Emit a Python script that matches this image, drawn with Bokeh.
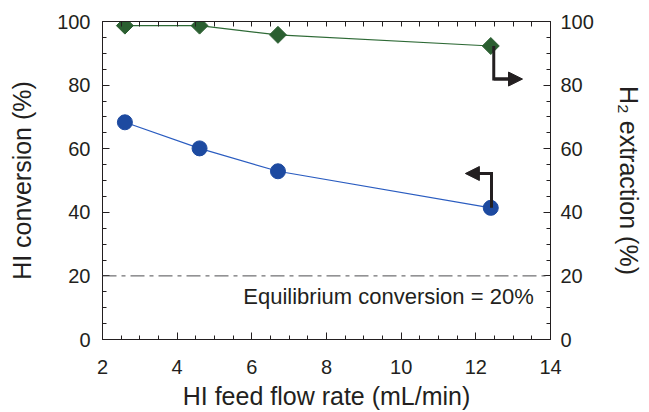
import numpy as np
from bokeh.plotting import figure
from bokeh.models import (Range1d, LinearAxis, SingleIntervalTicker, FixedTicker, Span, Label,
                          Arrow, NormalHead, ColumnDataSource)
from bokeh.embed import file_html
from bokeh.resources import INLINE

# ---- data ----
flow_rate = [2.6, 4.6, 6.7, 12.4]               # HI feed flow rate (mL/min)
hi_conversion = [68.3, 60.1, 52.9, 41.4]        # HI conversion (%)
h2_extraction = [98.7, 98.7, 95.8, 92.3]        # H2 extraction (%)
equilibrium = 20                                # equilibrium conversion (%)
eq_label = "Equilibrium conversion = 20%"
x_title = "HI feed flow rate (mL/min)"
y_title = "HI conversion (%)"
y2_title = "H₂ extraction (%)"

FONT = "Liberation Sans"
INK = "#231f20"

p = figure(width=649, height=412, output_backend="svg", toolbar_location=None,
           x_range=Range1d(2, 14), y_range=Range1d(0, 100),
           min_border_left=102, min_border_right=99, min_border_top=21, min_border_bottom=70)
p.extra_y_ranges = {"h2": Range1d(0, 100)}
p.xgrid.visible = False
p.ygrid.visible = False
p.outline_line_color = None
p.background_fill_color = "white"
p.border_fill_color = "white"

def style(ax):
    ax.axis_line_color = INK
    ax.axis_line_width = 1
    ax.major_tick_line_color = INK
    ax.minor_tick_line_color = INK
    ax.major_tick_in = 7
    ax.major_tick_out = 0
    ax.minor_tick_in = 4
    ax.minor_tick_out = 0
    ax.major_label_text_font = FONT
    ax.major_label_text_color = INK
    ax.major_label_text_font_size = "20px"
    ax.axis_label_text_font = FONT
    ax.axis_label_text_color = INK
    ax.axis_label_text_font_style = "normal"
    ax.axis_label_text_font_size = "25px"

# bottom / left axes
p.xaxis.ticker = SingleIntervalTicker(interval=2, num_minor_ticks=4)
p.yaxis.ticker = SingleIntervalTicker(interval=20, num_minor_ticks=4)
style(p.xaxis[0])
style(p.yaxis[0])
p.xaxis.axis_label = x_title
p.yaxis.axis_label = y_title
p.xaxis.major_label_standoff = 20
p.xaxis.axis_label_standoff = 5
p.yaxis.major_label_standoff = 12
p.yaxis.axis_label_standoff = 18

# right axis
ax_r = LinearAxis(y_range_name="h2", ticker=SingleIntervalTicker(interval=20, num_minor_ticks=4),
                  axis_label=y2_title)
style(ax_r)
ax_r.major_label_standoff = 10
ax_r.axis_label_standoff = 18
ax_r.axis_label_orientation = "vertical"
p.add_layout(ax_r, "right")

# top axis: ticks only, no labels
top_ticks = list(np.arange(2, 14.01, 0.5))
ax_t = LinearAxis(ticker=FixedTicker(ticks=[], minor_ticks=top_ticks))
style(ax_t)
ax_t.minor_tick_in = 5
ax_t.major_label_standoff = 0
ax_t.axis_label_standoff = 0
p.add_layout(ax_t, "above")

# equilibrium line
p.add_layout(Span(location=equilibrium, dimension="width", line_color="#4d4d4f",
                  line_width=1, line_dash="14 5 4 5"))
p.add_layout(Label(x=13.55, y=13.4, text=eq_label, text_align="right", text_baseline="middle",
                   text_font=FONT, text_font_size="22px", text_color=INK))

# series
src = ColumnDataSource(dict(x=flow_rate, conv=hi_conversion, h2=h2_extraction))
p.line("x", "h2", source=src, line_color="#2e6a36", line_width=1.2, y_range_name="h2")
p.scatter("x", "h2", source=src, marker="square", angle=0.785398, size=12,
          fill_color="#2b5f31", line_color="#2b5f31", y_range_name="h2")
p.line("x", "conv", source=src, line_color="#2a5cc0", line_width=1.2)
p.scatter("x", "conv", source=src, marker="circle", size=15,
          fill_color="#1d4aa0", line_color="#1d4aa0")

# direction arrows (annotation positions)
xr = 12.48
r_start, r_corner, r_tip = h2_extraction[-1], 81.9, 13.25
p.line([xr, xr, r_tip - 0.2], [r_start, r_corner, r_corner], line_color=INK, line_width=3,
       line_join="miter", y_range_name="h2")
p.add_layout(Arrow(x_start=xr, y_start=r_corner, x_end=r_tip, y_end=r_corner,
                   y_range_name="h2", line_width=3, line_color=INK,
                   end=NormalHead(size=14, fill_color=INK, line_color=INK)))
xl = 12.42
l_start, l_corner, l_tip = hi_conversion[-1], 52.2, 11.72
p.line([xl, xl, l_tip + 0.2], [l_start, l_corner, l_corner], line_color=INK, line_width=3,
       line_join="miter")
p.add_layout(Arrow(x_start=xl, y_start=l_corner, x_end=l_tip, y_end=l_corner,
                   line_width=3, line_color=INK,
                   end=NormalHead(size=14, fill_color=INK, line_color=INK)))

open("out.html", "w").write(file_html(p, INLINE))
